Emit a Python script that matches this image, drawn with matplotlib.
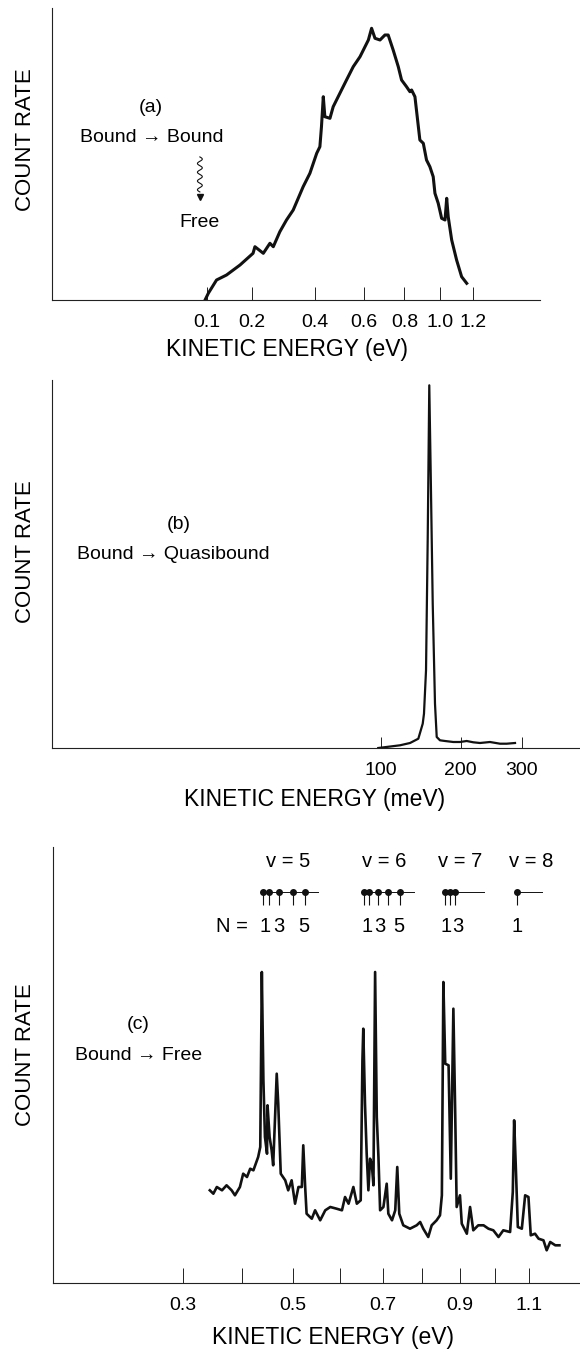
import numpy as np
import matplotlib
matplotlib.use("Agg")
import matplotlib.pyplot as plt

plt.rcParams['font.family'] = ['Liberation Sans', 'DejaVu Sans']

# (a) bound -> bound -> free, energy in eV
energy_a = [0.096, 0.102, 0.118, 0.139, 0.170, 0.203, 0.208, 0.231, 0.250, 0.260,
            0.280, 0.301, 0.323, 0.357, 0.381, 0.406, 0.418, 0.424, 0.431, 0.437,
            0.457, 0.470, 0.504, 0.525, 0.554, 0.584, 0.622, 0.637, 0.653, 0.677,
            0.701, 0.717, 0.742, 0.768, 0.785, 0.811, 0.829, 0.838, 0.856, 0.883,
            0.902, 0.920, 0.939, 0.958, 0.968, 0.987, 1.007, 1.027, 1.037, 1.046,
            1.067, 1.097, 1.128, 1.160]
count_a = [0, 6.7, 20, 25, 35, 46.7, 53.3, 46.7, 56.7, 53.3,
           68.3, 80, 90, 113.3, 126.7, 146.7, 153.3, 173.3, 203.3, 183.3,
           181.7, 193.3, 210, 220, 233.3, 243.3, 260, 271.7, 261.7, 260,
           265, 265, 250, 233.3, 220, 213.3, 208.3, 210, 203.3, 160,
           156.7, 140, 133.3, 123.3, 106.7, 96.7, 81.7, 80, 101.7, 83.3,
           60, 40, 23.3, 16.7]
ticks_a = [0.1, 0.2, 0.4, 0.6, 0.8, 1.0, 1.2]
ticklabels_a = ['0.1', '0.2', '0.4', '0.6', '0.8', '1.0', '1.2']

# (b) bound -> quasibound, energy in meV
energy_b = [97.6, 121.1, 132.8, 142.9, 148.4, 150.0, 152.6, 154.8, 156.8, 158.6,
            161.3, 164.3, 166.6, 171.0, 177.9, 189.5, 199.2, 209.1, 219.1, 229.5,
            245.5, 262.0, 273.3, 287.8]
count_b = [0, 2.7, 5, 9.3, 24.3, 34.3, 77.7, 211, 362.7, 277.7,
           144.3, 44.3, 11, 7.7, 7, 6, 6, 7, 5.7, 5,
           6, 4.3, 4.3, 5]
ticks_b = [100, 200, 300]
ticklabels_b = ['100', '200', '300']

# (c) bound -> free, energy in eV
energy_c = [0.344, 0.350, 0.356, 0.365, 0.373, 0.382, 0.388, 0.397, 0.403, 0.410,
            0.416, 0.422, 0.431, 0.435, 0.438, 0.441, 0.444, 0.448, 0.449, 0.453,
            0.457, 0.460, 0.464, 0.467, 0.470, 0.475, 0.484, 0.490, 0.497, 0.504,
            0.511, 0.518, 0.521, 0.525, 0.528, 0.539, 0.546, 0.557, 0.568, 0.579,
            0.593, 0.605, 0.612, 0.620, 0.631, 0.639, 0.648, 0.652, 0.654, 0.658,
            0.662, 0.666, 0.670, 0.674, 0.678, 0.682, 0.686, 0.690, 0.694, 0.702,
            0.710, 0.714, 0.723, 0.731, 0.736, 0.741, 0.751, 0.768, 0.785, 0.794,
            0.802, 0.815, 0.824, 0.837, 0.846, 0.851, 0.855, 0.860, 0.869, 0.875,
            0.882, 0.887, 0.891, 0.900, 0.905, 0.919, 0.928, 0.937, 0.951, 0.966,
            0.980, 0.994, 1.009, 1.023, 1.043, 1.051, 1.055, 1.060, 1.066, 1.078,
            1.088, 1.098, 1.105, 1.118, 1.129, 1.144, 1.154, 1.165, 1.181, 1.194]
count_c = [92.7, 89.3, 96, 92.7, 97.7, 92.7, 87.7, 96, 109.3, 106,
           114.3, 112.7, 126, 136, 311, 202.7, 146, 129.3, 177.7, 146,
           132.7, 117.7, 169.3, 209.3, 179.3, 109.3, 102.7, 92.7, 102.7, 79.3,
           96, 96, 137.7, 96, 69.3, 64.3, 72.7, 62.7, 72.7, 76,
           74.3, 72.7, 86, 79.3, 96, 79.3, 82.7, 222.7, 254.3, 179.3,
           129.3, 92.7, 124.3, 119.3, 97.7, 311, 166, 126, 72.7, 76,
           99.3, 69.3, 62.7, 72.7, 116, 69.3, 57.7, 54.3, 57.7, 61,
           54.3, 46, 57.7, 62.7, 67.7, 87.7, 301, 219.3, 217.7, 104.3,
           274.3, 169.3, 76, 87.7, 59.3, 49.3, 76, 52.7, 57.7, 57.7,
           54.3, 52.7, 46, 52.7, 51, 91, 162.7, 116, 56, 54.3,
           87.7, 86, 47.7, 49.3, 44.3, 42.7, 32.7, 41, 37.7, 37.7]
ticks_c = [0.3, 0.4, 0.5, 0.6, 0.7, 0.8, 0.9, 1.0, 1.1]
ticklabels_c = ['0.3', '', '0.5', '', '0.7', '', '0.9', '', '1.1']

# rotational levels drawn above panel (c)
v_labels = ['v = 5', 'v = 6', 'v = 7', 'v = 8']
v_label_E = [0.489, 0.705, 0.900, 1.106]
rot_E = [[0.441, 0.4515, 0.4723, 0.4993, 0.5252],
         [0.6559, 0.6677, 0.6892, 0.7135, 0.7432],
         [0.8597, 0.8718, 0.8868],
         [1.063]]
level_end_E = [0.552, 0.779, 0.966, 1.139]
N_label_E = [0.4442, 0.4714, 0.5226, 0.6623, 0.6939, 0.7387, 0.8623, 0.8949, 1.063]
N_labels = ['1', '3', '5', '1', '3', '5', '1', '3', '1']


def fwd(x):
    return np.sign(x) * np.sqrt(np.abs(x))


def inv(x):
    return np.sign(x) * x ** 2


def style(ax, ticks, labels, ticklen):
    ax.set_xscale('function', functions=(fwd, inv))
    for s in ['top', 'right']:
        ax.spines[s].set_visible(False)
    for s in ['left', 'bottom']:
        ax.spines[s].set_linewidth(0.8)
        ax.spines[s].set_color('#222222')
    ax.set_yticks([])
    ax.set_xticks(ticks)
    ax.set_xticklabels(labels)
    ax.tick_params(axis='x', direction='in', length=ticklen, width=0.7,
                   pad=10, labelsize=14, color='#222222')


W, H = 580, 1351
fig = plt.figure(figsize=(W / 100, H / 100), dpi=100)

# ---- panel (a)
ax_a = fig.add_axes([52 / W, 1 - 300 / H, 488 / W, 292 / H])
ax_a.plot(energy_a, count_a, color='#111111', lw=2.2)
style(ax_a, ticks_a, ticklabels_a, 9.5)
ax_a.set_xlim(-0.0193, 1.669)
ax_a.set_ylim(0, 292)
ax_a.set_ylabel('COUNT RATE', fontsize=16, va='center')
ax_a.yaxis.set_label_coords(-0.055, 0.548)
ax_a.set_xlabel('KINETIC ENERGY (eV)', fontsize=16.5, va='center')
ax_a.xaxis.set_label_coords(0.4816, -0.168)
ax_a.text(0.203, 0.658, '(a)', transform=ax_a.transAxes, fontsize=14, ha='center', va='center')
ax_a.text(0.205, 0.555, 'Bound \u2192 Bound', transform=ax_a.transAxes, fontsize=14, ha='center', va='center')
ax_a.text(0.303, 0.264, 'Free', transform=ax_a.transAxes, fontsize=14, ha='center', va='center')
t = np.linspace(0, 1, 80)
ax_a.plot(0.303 + 0.005 * np.sin(2 * np.pi * 4 * t), 0.49 - 0.12 * t,
          transform=ax_a.transAxes, color='#111111', lw=0.8)
ax_a.plot([0.303], [0.352], marker='v', ms=5, color='#111111', transform=ax_a.transAxes)

# ---- panel (b)
ax_b = fig.add_axes([52 / W, 1 - 748 / H, 528 / W, 368 / H])
ax_b.plot(energy_b, count_b, color='#111111', lw=1.6)
style(ax_b, ticks_b, ticklabels_b, 8)
ax_b.set_xlim(-49.4, 413.4)
ax_b.set_ylim(0, 368)
ax_b.set_ylabel('COUNT RATE', fontsize=16, va='center')
ax_b.yaxis.set_label_coords(-0.051, 0.533)
ax_b.set_xlabel('KINETIC ENERGY (meV)', fontsize=16.5, va='center')
ax_b.xaxis.set_label_coords(0.498, -0.141)
ax_b.text(0.2405, 0.606, '(b)', transform=ax_b.transAxes, fontsize=14, ha='center', va='center')
ax_b.text(0.229, 0.527, 'Bound \u2192 Quasibound', transform=ax_b.transAxes, fontsize=14, ha='center', va='center')

# ---- panel (c)
ax_c = fig.add_axes([53 / W, 1 - 1283 / H, 527 / W, 436 / H])
ax_c.plot(energy_c, count_c, color='#111111', lw=1.9)
style(ax_c, ticks_c, ticklabels_c, 10.8)
ax_c.set_ylim(0, 436)
ax_c.set_ylabel('COUNT RATE', fontsize=16, va='center')
ax_c.yaxis.set_label_coords(-0.053, 0.523)
ax_c.set_xlabel('KINETIC ENERGY (eV)', fontsize=16.5, va='center')
ax_c.xaxis.set_label_coords(0.531, -0.124)
ax_c.text(0.161, 0.594, '(c)', transform=ax_c.transAxes, fontsize=14, ha='center', va='center')
ax_c.text(0.163, 0.521, 'Bound \u2192 Free', transform=ax_c.transAxes, fontsize=14, ha='center', va='center')

trans = ax_c.get_xaxis_transform()
y_lev, y_stem = 0.8975, 0.867
for Es, end in zip(rot_E, level_end_E):
    ax_c.plot([Es[0], end], [y_lev, y_lev], transform=trans, color='#111111', lw=0.7)
    ax_c.vlines(Es, y_stem, y_lev, transform=trans, color='#111111', lw=0.8)
    ax_c.plot(Es, [y_lev] * len(Es), 'o', ms=4, color='#111111', transform=trans)
for lab, e in zip(v_labels, v_label_E):
    ax_c.text(e, 0.9656, lab, transform=trans, fontsize=14.5, ha='center', va='center')
for lab, e in zip(N_labels, N_label_E):
    ax_c.text(e, 0.8188, lab, transform=trans, fontsize=14.5, ha='center', va='center')
ax_c.text(0.383, 0.8188, 'N =', transform=trans, fontsize=14.5, ha='center', va='center')
ax_c.set_xlim(0.1292, 1.260)

fig.savefig('out.png', dpi=100, facecolor='white')
